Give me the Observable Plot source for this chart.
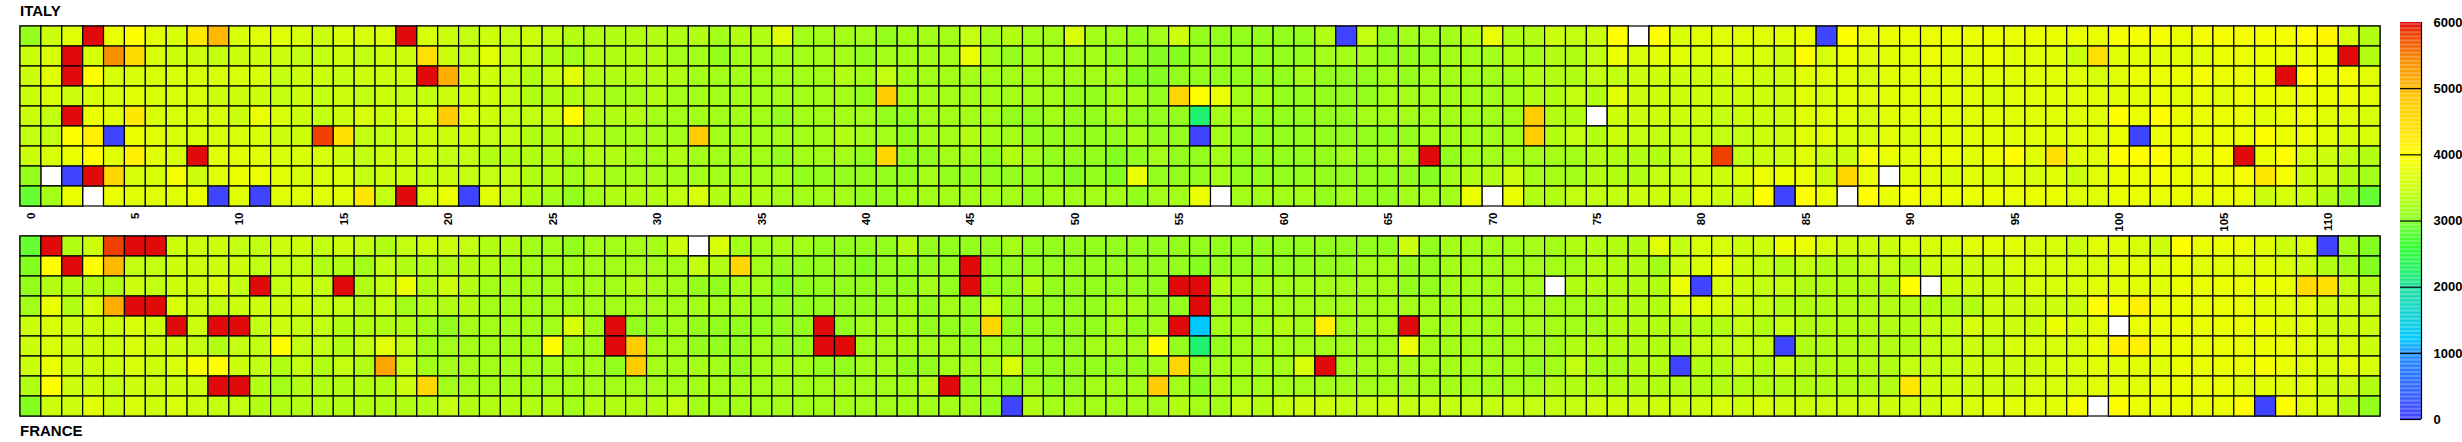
<!DOCTYPE html>
<html><head><meta charset="utf-8">
<script src="https://cdn.jsdelivr.net/npm/d3@7"></script>
<script src="https://cdn.jsdelivr.net/npm/@observablehq/plot@0.6"></script>
<style>
html,body{margin:0;padding:0;background:#fff;}
#wrap{position:relative;width:2462px;height:442px;overflow:hidden;font-family:"Liberation Sans",Arial,sans-serif;}
.title{position:absolute;left:20px;font-weight:bold;font-size:15px;line-height:15px;color:#000;white-space:nowrap;}
#wrap svg{position:absolute;}
</style></head><body><div id="wrap"><div class="title" style="top:3px">ITALY</div><div class="title" style="top:423px">FRANCE</div></div>
<script>
// ---- data: one array per row (top row first), 113 bins (0..112); 0 = empty bin ----
const italyRow0 = [3100,3500,3700,6500,3800,4000,3700,3600,4300,5000,3600,3700,3700,3600,3500,3600,3600,3600,
6500,3600,3500,3400,3500,3400,3500,3400,3300,3300,3300,3300,3300,3300,3300,3200,3300,3300,3700,
3200,3200,3200,3200,3100,3200,3200,3200,3400,3200,3300,3200,3200,3600,3200,3200,3100,3200,3500,3100,3100,3100,3100,3100,
3100,3300,50,3400,3100,3200,3200,3200,3300,3800,3300,3300,3500,3400,3500,4000,0,4000,3600,3700,3700,3700,3700,3700,
3800,50,4000,3800,3800,3800,3800,3800,3800,3800,3800,3800,3800,3800,3800,3900,3900,3900,3800,3900,3900,3900,3900,3900,
4000,4100,3600,3300];
const italyRow1 = [3500,3600,6500,3600,5400,4500,3600,3500,3500,3400,3500,3500,3500,3400,3400,3500,3400,3500,
3500,4400,3500,3400,3700,3400,3400,3300,3200,3300,3300,3300,3300,3200,3200,3100,3200,3200,3200,
3200,3200,3200,3100,3200,3200,3200,3200,3800,3200,3100,3200,3200,3200,3200,3100,3100,3000,3000,3100,3100,3100,3100,3100,
3100,3200,3200,3200,3100,3100,3100,3200,3200,3200,3300,3200,3300,3300,3400,3800,3600,3700,3700,3600,3700,3600,3600,3500,
4000,3600,3800,3700,3700,3700,3800,3700,3700,3800,3700,3700,3700,3500,4400,3700,3700,3700,3700,3700,3800,3800,3800,3800,
3800,3800,6500,3300];
const italyRow2 = [3500,3700,6500,4000,3600,3600,3600,3600,3600,3600,3600,3600,3400,3500,3500,3400,3500,3500,
3500,6500,5100,3500,3500,3400,3300,3400,3700,3300,3300,3300,3300,3300,3200,3200,3200,3200,3200,
3200,3200,3300,3200,3400,3200,3200,3200,3200,3200,3200,3200,3200,3200,3200,3200,3000,3000,3100,3100,3100,3100,3100,3100,
3200,3100,3100,3100,3200,3100,3200,3200,3200,3200,3200,3300,3300,3300,3400,3400,3500,3500,3500,3500,3500,3600,3500,3500,
3700,3700,3700,3600,3700,3700,3700,3700,3700,3700,3700,3700,3700,3700,3600,3700,3800,3800,3800,3900,3800,3800,3800,6500,
4000,3800,3900,3700];
const italyRow3 = [3500,3600,3500,3600,3600,3700,3600,3600,3600,3500,3500,3500,3400,3500,3400,3500,3400,3500,
3400,3400,3500,3500,3500,3400,3300,3300,3300,3300,3200,3200,3300,3200,3200,3200,3200,3200,3200,
3200,3200,3200,3100,4800,3200,3200,3200,3200,3200,3200,3200,3200,3100,3100,3200,3200,3100,4600,4000,3800,3200,3200,3100,
3100,3100,3100,3100,3200,3200,3200,3200,3200,3200,3200,3300,3300,3400,3300,3700,3500,3500,3500,3500,3500,3500,3500,3500,
3700,3600,3700,3700,3700,3700,3700,3700,3700,3600,3700,3700,3700,3700,3700,3700,3700,3800,3700,3800,3700,3800,3800,3800,
3800,3800,3800,3700];
const italyRow4 = [3500,3400,6500,3800,3700,4300,3600,3600,3600,3600,3500,3800,3600,3500,3400,3500,3600,3500,
3600,3600,4800,3600,3500,3400,3400,3400,4000,3300,3300,3300,3200,3200,3200,3200,3200,3200,3100,
3200,3200,3200,3200,3100,3100,3200,3200,3200,3200,3100,3100,3200,3100,3100,3200,3100,3100,3100,2200,3200,3200,3100,3100,
3100,3100,3100,3200,3200,3200,3200,3200,3200,3200,3200,4800,3300,3300,0,3500,3500,3500,3500,3500,3400,3500,3500,3500,
3700,3700,3700,3600,3700,3700,3700,3700,3700,3700,3700,3700,3700,3700,3700,4000,3800,4000,3800,3800,3800,3800,3700,3800,
3800,3700,3700,3600];
const italyRow5 = [3400,3400,4000,4200,50,3800,3700,3600,3600,3600,3600,3600,3500,3500,5800,4400,3400,3400,
3500,3500,3500,3500,3400,3400,3300,3300,3300,3300,3200,3200,3200,3200,4800,3200,3200,3200,3200,
3200,3200,3300,3200,3200,3100,3200,3200,3300,3200,3200,3100,3100,3100,3100,3100,3200,3100,3100,50,3200,3100,3100,3100,
3100,3100,3100,3100,3100,3100,3200,3200,3200,3200,3200,4800,3300,3400,3300,3500,3400,3400,3400,3400,3400,3400,3500,3500,
3700,3700,3600,3600,3700,3600,3700,3700,3700,3700,3700,3700,3700,3700,3700,3800,50,3800,3800,3800,3800,3800,4000,3800,
3800,3700,3600,3600];
const italyRow6 = [3500,3600,3800,4000,3700,4200,3700,3600,6500,3700,3700,3700,3600,3600,3600,3500,3400,3500,
3500,3500,3400,3400,3300,3300,3300,3300,3200,3300,3300,3200,3200,3300,3200,3200,3200,3200,3100,
3200,3200,3200,3100,4600,3100,3100,3200,3200,3100,3300,3200,3100,3100,3100,3000,3100,3200,3100,3100,3200,3100,3100,3100,
3100,3100,3200,3100,3200,3200,6500,3100,3200,3200,3200,3200,3200,3200,3300,3300,3300,3300,3400,3500,5800,3400,3500,3500,
3700,3500,3500,3900,3800,3700,3800,3800,3700,3800,4000,3700,4400,3700,3700,4000,4000,4000,3800,3800,3900,6500,3800,4000,
3600,3500,3400,3300];
const italyRow7 = [3100,0,50,6500,4600,3600,3600,3900,3500,3700,3800,3800,3700,3600,3600,3600,3400,3500,
3500,3400,3500,3400,3400,3400,3300,3300,3200,3300,3200,3200,3200,3200,3200,3200,3200,3200,3200,
3100,3100,3100,3100,3100,3100,3200,3100,3100,3100,3100,3100,3100,3000,3100,3000,3800,3100,3100,3100,3200,3100,3100,3100,
3100,3100,3100,3100,3100,3100,3000,3200,3300,3300,3500,3200,3200,3200,3300,3300,3300,3400,3400,3500,3500,3600,3800,3800,
3800,3500,4600,3800,0,3700,3700,3600,3700,3600,3700,3600,3700,3500,3700,3800,3800,3900,3800,3800,3800,3900,4300,3900,
3500,3500,3300,3200];
const italyRow8 = [2900,3200,3800,0,3800,3700,3700,3700,3800,50,3700,50,3700,3700,3700,3700,4300,3400,
6500,3600,3800,50,3700,3400,3300,3200,3100,3200,3300,3300,3300,3400,3600,3300,3300,3300,3200,
3200,3200,3200,3100,3100,3200,3200,3200,3200,3200,3200,3100,3200,3200,3200,3200,3100,3200,3200,3800,0,3200,3200,3200,
3200,3100,3200,3100,3100,3200,3200,3200,3800,0,3800,3300,3300,3400,3400,3400,3500,3500,3500,3600,3500,3500,4000,50,
4000,3800,0,4000,3800,3900,3800,3800,3800,3800,3800,3800,3800,3700,3700,3800,3800,3800,3800,3800,3800,3800,3500,3600,
3500,3300,3100,2900];

const franceRow0 = [2900,6500,3300,3500,5800,6500,6500,3500,3500,3500,3400,3400,3500,3500,3400,3500,3400,3300,
3400,3500,3500,3400,3300,3300,3200,3200,3100,3200,3200,3200,3200,3500,0,3600,3200,3200,3200,
3200,3100,3100,3100,3100,3300,3100,3100,3100,3100,3200,3100,3100,3100,3100,3100,3100,3100,3100,3100,3100,3100,3100,3100,
3100,3100,3100,3100,3100,3500,3100,3200,3200,3200,3200,3200,3200,3300,3300,3300,3300,3700,3400,3600,3600,3500,3500,3800,
3800,3600,3500,3500,3500,3600,3600,3600,3700,3700,3700,3600,3600,3500,3700,3700,3600,3500,4000,3800,3800,3800,3700,3500,
3600,50,3200,3000];
const franceRow1 = [3000,4000,6500,4000,5000,3400,3400,3500,3500,3500,3500,3400,3400,3400,3300,3300,3200,3400,
3300,3300,3300,3300,3300,3200,3200,3200,3200,3200,3200,3200,3200,3200,3400,3300,4600,3200,3100,
3100,3100,3100,3000,3100,3100,3100,3100,6500,3100,3100,3100,3100,3100,3100,3100,3100,3100,3100,3000,3100,3100,3100,3100,
3100,3100,3100,3200,3200,3100,3100,3200,3200,3200,3200,3200,3200,3200,3300,3300,3300,3200,3500,3600,3800,3500,3400,3300,
3400,3300,3300,3400,3400,3300,3500,3500,3500,3500,3600,3600,3600,3600,3600,3700,3700,3700,3800,3700,3700,3700,3700,3600,
3500,3300,3200,3000];
const franceRow2 = [3100,3300,3300,3300,3300,3500,3400,3500,3500,3600,3400,6500,3400,3500,3400,6500,3300,3400,
3800,3300,3500,3300,3200,3200,3200,3200,3200,3200,3200,3300,3200,3200,3100,3100,3200,3200,3000,
3100,3100,3100,3100,3100,3100,3200,3100,6500,3100,3100,3300,3100,3100,3100,3100,3100,3100,6500,6500,3300,3200,3200,3200,
3200,3200,3200,3200,3200,3100,3100,3200,3200,3200,3200,3200,0,3300,3300,3300,3300,3300,3800,50,3600,3500,3400,3400,
3300,3300,3300,3300,3300,4000,0,3500,3500,3500,3500,3600,3600,3600,3700,3700,3700,3700,3800,3800,3800,3800,3800,3800,
4500,4400,3400,3300];
const franceRow3 = [3200,3800,3300,3600,5100,6500,6500,3600,3500,3400,3500,3500,3500,3500,3400,3400,3300,3400,
3200,3300,3300,3300,3200,3200,3200,3200,3200,3200,3200,3200,3200,3200,3200,3200,3200,3100,3100,
3100,3100,3100,3100,3100,3200,3100,3200,3100,3400,3100,3100,3100,3100,3100,3200,3200,3100,3100,6500,3200,3100,3200,3200,
3200,3200,3200,3200,3200,3200,3200,3200,3200,3200,3200,3200,3200,3200,3200,3300,3300,3300,3600,3700,3600,3500,3400,3300,
3300,3300,3300,3300,3300,3300,3300,3300,3300,3500,3500,3500,3500,3500,4000,3900,4200,3800,3800,3800,3800,3800,3700,3700,
3700,3500,3500,3400];
const franceRow4 = [3500,3600,3500,3500,3500,3600,3500,6500,3500,6500,6500,3400,3500,3400,3400,3300,3300,3300,
3300,3200,3100,3200,3200,3200,3200,3200,3600,3200,6500,3100,3100,3200,3100,3100,3100,3100,3100,
3100,6500,3100,3200,3200,3200,3100,3100,3100,4600,3100,3100,3100,3100,3100,3200,3100,3200,6500,1200,3200,3200,3200,3300,
3200,4200,3200,3200,3200,6500,3200,3200,3200,3200,3200,3200,3200,3200,3200,3300,3300,3300,3300,3300,3300,3400,3300,3400,
3300,3300,3300,3300,3300,3300,3400,3400,3600,3500,3500,3500,3800,3600,3700,0,3800,3800,3800,3800,3800,3800,3800,3700,
3700,3500,3500,3500];
const franceRow5 = [3500,3600,3500,3500,3500,3600,3500,3500,3400,3300,3400,3400,4000,3400,3400,3300,3400,3700,
3400,3200,3200,3200,3200,3200,3200,4000,3200,3200,6500,4800,3200,3200,3100,3100,3100,3200,3100,
3100,6500,6500,3200,3200,3200,3200,3200,3100,3200,3100,3100,3100,3100,3200,3200,3200,4000,3100,2200,3100,3200,3200,3200,
3200,3200,3200,3200,3200,3800,3200,3200,3200,3200,3200,3200,3200,3300,3300,3300,3300,3300,3300,3400,3400,3400,3400,50,
3300,3300,3300,3300,3300,3300,3400,3400,3500,3400,3600,3600,3600,3600,3800,4200,4200,3800,3800,3800,3800,3800,3800,3800,
3700,3600,3600,3500];
const franceRow6 = [3500,3800,3500,3500,3500,3600,3500,3600,3900,4000,3500,3400,3300,3400,3300,3400,3300,5200,
3400,3200,3200,3200,3200,3200,3200,3200,3200,3200,3100,4800,3200,3200,3200,3200,3100,3200,3200,
3200,3100,3100,3200,3200,3100,3100,3200,3200,3200,3600,3100,3100,3100,3100,3100,3100,3200,4600,3100,3200,3200,3200,3200,
3600,6500,3200,3200,3200,3200,3200,3200,3200,3200,3200,3100,3200,3400,3200,3200,3300,3300,50,3300,3300,3400,3300,3400,
3300,3300,3300,3300,3300,3400,3400,3400,3500,3500,3500,3500,3600,3600,3700,3700,3700,3700,3800,3800,3800,3800,3900,3800,
3700,3600,3700,3600];
const franceRow7 = [3300,4000,3500,3500,3400,3500,3500,3500,3500,6500,6500,3300,3200,3300,3300,3300,3300,3300,
3500,4600,3200,3200,3200,3200,3200,3200,3200,3200,3200,3200,3200,3200,3200,3200,3200,3200,3200,
3200,3200,3200,3200,3200,3200,3300,6500,3100,3200,3100,3200,3100,3100,3200,3200,3200,4800,3200,3000,3200,3200,3200,3200,
3200,3200,3200,3200,3200,3200,3200,3200,3200,3200,3200,3200,3300,3300,3300,3300,3300,3300,3300,3300,3300,3300,3300,3300,
3300,3300,3300,3300,3300,4300,3500,3500,3500,3500,3500,3600,3600,3600,3700,3700,3700,3800,3800,3800,3800,3700,3700,3700,
3700,3500,3500,3300];
const franceRow8 = [3000,3500,3500,3700,3500,3600,3500,3600,3500,3400,3400,3300,3300,3300,3300,3300,3300,3300,
3300,3300,3400,3300,3300,3300,3300,3300,3200,3300,3300,3300,3300,3400,3200,3200,3200,3200,3200,
3200,3200,3200,3200,3200,3200,3200,3200,3200,3100,50,3300,3200,3200,3200,3200,3200,3200,3300,3200,3200,3400,3300,3400,
3500,3500,3400,3400,3500,3400,3400,3400,3400,3400,3400,3400,3400,3400,3500,3500,3500,3500,3500,3500,3600,3500,3600,3500,
3500,3500,3500,3500,3500,3500,3500,3600,3600,3700,3700,3700,3700,3900,0,4000,3800,3800,3800,3800,3800,4000,50,4000,
3700,3600,3300,3100];

const tickLabels = [0,5,10,15,20,25,30,35,40,45,50,55,60,65,70,75,80,85,90,95,100,105,110];
const legendTicks = [0,1000,2000,3000,4000,5000,6000];
const paletteStops  = [0,1000,1200,2000,2200,2600,2900,3000,3200,3400,3600,3800,4000,4400,4800,5000,5400,5800,6000];
const paletteColors = ["#4040ff","#1e90ff","#00c8ff","#20e0a0","#20f070","#30ff30","#66ff33","#84ff20","#a4ff18","#c2ff10","#d6ff08","#eaff00","#ffff00","#ffe000","#ffcc00","#ffb800","#f89000","#f04000","#e00a0a"];

const italyRows = [italyRow0,italyRow1,italyRow2,italyRow3,italyRow4,italyRow5,italyRow6,italyRow7,italyRow8];
const franceRows = [franceRow0,franceRow1,franceRow2,franceRow3,franceRow4,franceRow5,franceRow6,franceRow7,franceRow8];
const nCols = italyRow0.length;
const colIds = Array.from({length: nCols}, (_, i) => i);
const rowIds = italyRows.map((_, i) => i);

function toTable(rows) {
  const out = [];
  rows.forEach((r, i) => r.forEach((v, j) => out.push({row: i, col: j, v})));
  return out;
}
const colorOpts = {type: "linear", domain: paletteStops, range: paletteColors, clamp: true};
const svgStyle = {background: "transparent", fontFamily: "'Liberation Sans', Arial, sans-serif", color: "black", overflow: "visible"};

function panel(rows, withAxis, mt, mb) {
  const data = toTable(rows);
  return Plot.plot({
    width: 2390, height: mt + 188 + mb,
    marginLeft: 20, marginRight: 10, marginTop: mt, marginBottom: mb,
    style: svgStyle,
    x: {type: "band", domain: colIds, padding: 0, axis: null},
    y: {type: "band", domain: rowIds, padding: 0, axis: null},
    color: colorOpts,
    marks: [
      Plot.cell(data, {x: "col", y: "row", fill: "white", stroke: "black", strokeWidth: 1.2, inset: 0}),
      Plot.cell(data.filter(d => d.v > 0), {x: "col", y: "row", fill: "v", stroke: "black", strokeWidth: 1.2, inset: 0}),
      withAxis ? Plot.axisX({ticks: tickLabels, tickRotate: -90, tickSize: 0, tickPadding: 2, fontSize: 11.5, fontWeight: "bold", label: null}) : null
    ]
  });
}

const wrap = document.getElementById("wrap");
const top1 = panel(italyRows, true, 22, 22);
top1.style.left = "0px"; top1.style.top = "0px";
wrap.appendChild(top1);
const bot = panel(franceRows, false, 10, 10);
bot.style.left = "0px"; bot.style.top = "222px";
wrap.appendChild(bot);

// colour bar
const legendStep = 20;
const legendBands = d3.range(0, 6000, legendStep);
const leg = Plot.plot({
  width: 82, height: 442, marginLeft: 20, marginRight: 41, marginTop: 22, marginBottom: 23,
  style: svgStyle,
  x: {domain: [0, 1], axis: null},
  y: {domain: [0, 6000], axis: null},
  color: colorOpts,
  marks: [
    Plot.rect(legendBands, {x1: 0, x2: 1, y1: d => d, y2: d => d + legendStep, fill: d => d + legendStep / 2}),
    Plot.ruleY(legendTicks.slice(1, -1), {x1: 0, x2: 1, stroke: "black", strokeWidth: 1.2}),
    Plot.ruleX([1], {y1: 0, y2: 6000, stroke: "black", strokeWidth: 1.2}),
    Plot.ruleY([0], {x1: 0, x2: 1, stroke: "black", strokeWidth: 1.2}),
    Plot.text(legendTicks, {x: 1, y: d => d, text: d => String(d), dx: 12, textAnchor: "start", fontWeight: "bold", fontSize: 13, fill: "black"})
  ]
});
leg.style.left = "2380px"; leg.style.top = "0px";
wrap.appendChild(leg);
</script></body></html>
